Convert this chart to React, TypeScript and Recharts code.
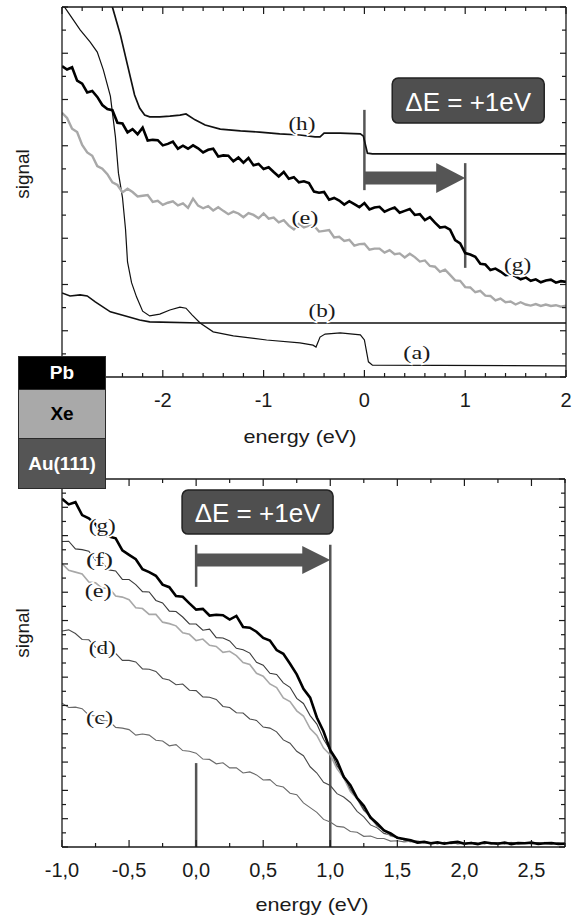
import React from 'react';
import { LineChart, Line, XAxis, YAxis, ReferenceLine, ReferenceDot } from 'recharts';

const SANS = '"Liberation Sans", Arial, Helvetica, sans-serif';
const SERIF = '"Liberation Serif", "Times New Roman", Times, serif';

// ---------------- TOP PANEL DATA ----------------
const topEnergy = [
  -3.0, -2.95, -2.9, -2.85, -2.8, -2.75, -2.7, -2.65, -2.6, -2.55, -2.5, -2.45, -2.4, -2.35, -2.3, -2.25, -2.2,
  -2.15, -2.1, -2.05, -2.0, -1.95, -1.9, -1.85, -1.8, -1.75, -1.7, -1.65, -1.6, -1.55, -1.5, -1.45, -1.4, -1.35,
  -1.3, -1.25, -1.2, -1.15, -1.1, -1.05, -1.0, -0.95, -0.9, -0.85, -0.8, -0.75, -0.7, -0.65, -0.6, -0.55, -0.5,
  -0.45, -0.4, -0.35, -0.3, -0.25, -0.2, -0.15, -0.1, -0.05, 0.0, 0.05, 0.1, 0.15, 0.2, 0.25, 0.3, 0.35, 0.4,
  0.45, 0.5, 0.55, 0.6, 0.65, 0.7, 0.75, 0.8, 0.85, 0.9, 0.95, 1.0, 1.05, 1.1, 1.15, 1.2, 1.25, 1.3, 1.35, 1.4,
  1.45, 1.5, 1.55, 1.6, 1.65, 1.7, 1.75, 1.8, 1.85, 1.9, 1.95, 2.0,
];
const topG = [
  84.0, 83.1, 83.7, 80.1, 79.3, 76.9, 77.3, 75.7, 73.5, 72.4, 72.1, 68.7, 68.5, 66.1, 67.0, 65.6, 67.4,
  63.9, 64.1, 64.0, 62.6, 63.0, 63.6, 61.7, 62.5, 61.7, 62.6, 61.8, 60.7, 61.4, 61.7, 59.6, 59.9, 59.8,
  58.3, 59.3, 57.9, 59.2, 57.2, 57.6, 56.2, 56.7, 55.4, 54.2, 55.4, 53.6, 54.0, 52.6, 52.9, 52.4, 50.1,
  49.8, 50.0, 47.9, 48.4, 47.7, 46.6, 47.5, 46.7, 45.9, 47.0, 45.3, 45.8, 46.0, 44.7, 45.3, 45.8, 44.4, 44.9,
  45.4, 43.8, 44.0, 42.4, 43.2, 41.7, 40.4, 40.6, 39.8, 37.0, 36.1, 33.5, 33.1, 32.5, 30.6, 30.4, 28.9, 29.3, 28.5, 27.5,
  27.7, 27.2, 26.4, 26.9, 26.0, 26.4, 25.6, 26.1, 26.3, 25.5, 25.9, 25.7,
];
const topE = [
  71.4, 70.0, 67.1, 66.2, 62.7, 60.7, 59.8, 57.0, 56.3, 54.8, 52.6, 51.9, 49.9, 50.9, 50.0, 48.8, 49.0,
  49.2, 47.3, 47.6, 46.5, 47.1, 47.5, 46.4, 46.9, 45.7, 48.2, 46.3, 45.6, 46.2, 45.0, 45.9, 44.9, 44.0,
  44.7, 44.2, 43.2, 44.3, 43.8, 42.9, 44.2, 42.8, 43.1, 41.8, 42.4, 40.9, 39.9, 41.4, 40.4, 40.9, 40.9,
  39.3, 39.5, 39.7, 37.7, 37.9, 36.8, 37.1, 35.5, 35.9, 36.0, 34.4, 34.7, 34.7, 33.6, 34.3, 33.2, 33.4, 32.3,
  33.3, 32.4, 31.2, 31.5, 30.0, 29.8, 28.4, 29.0, 27.6, 26.1, 26.0, 24.3, 24.2, 22.9, 23.3, 22.0, 21.9, 20.7, 21.2, 20.2,
  20.4, 19.6, 20.2, 19.6, 19.3, 19.7, 19.2, 19.6, 19.2, 19.4, 19.0, 19.3,
];
const hEnergy = [-2.56, -2.5, -2.42, -2.35, -2.28, -2.23, -2.18, -2.13, -2.03, -1.93, -1.83, -1.77, -1.68, -1.58, -1.43, -1.23, -1.04, -0.84, -0.64, -0.49, -0.44, -0.4, -0.24, -0.04, -0.01, 0.03, 0.08, 2.0];
const hSignal = [118, 100, 92.4, 84.3, 76.2, 72.7, 70.8, 70.3, 70.3, 70.5, 70.8, 71.1, 69.5, 68.1, 67.0, 66.5, 66.2, 65.7, 65.4, 64.9, 64.9, 65.9, 65.9, 65.7, 65.1, 60.5, 60.3, 60.3];
const aEnergy = [-3.0, -2.92, -2.82, -2.72, -2.65, -2.59, -2.52, -2.47, -2.44, -2.4, -2.37, -2.35, -2.31, -2.26, -2.2, -2.13, -2.03, -1.93, -1.83, -1.77, -1.71, -1.63, -1.5, -1.3, -0.97, -0.64, -0.51, -0.48, -0.44, -0.39, -0.24, -0.04, 0.0, 0.04, 0.08, 2.0];
const aSignal = [101, 97.8, 93.8, 90.5, 87.8, 83.0, 75.9, 64.9, 55.1, 48.5, 40.0, 31.1, 25.5, 21.6, 17.8, 16.5, 17.0, 18.1, 18.9, 18.6, 16.8, 14.6, 12.2, 11.1, 10.0, 9.2, 8.6, 8.1, 10.8, 11.6, 11.9, 11.4, 10.0, 4.1, 3.2, 3.0];
const bEnergy = [-3.0, -2.92, -2.82, -2.75, -2.67, -2.52, -2.37, -2.23, -2.13, -1.63, 2.0];
const bSignal = [22.7, 21.9, 22.2, 21.9, 20.3, 17.6, 16.5, 15.4, 14.9, 14.6, 14.6];

// ---------------- BOTTOM PANEL DATA ----------------
const botEnergy = [
  -1.0, -0.95, -0.9, -0.85, -0.8, -0.75, -0.7, -0.65, -0.6, -0.55, -0.5, -0.45, -0.4, -0.35, -0.3, -0.25, -0.2,
  -0.15, -0.1, -0.05, 0.0, 0.05, 0.1, 0.15, 0.2, 0.25, 0.3, 0.35, 0.4, 0.45, 0.5, 0.55, 0.6, 0.65, 0.7, 0.75,
  0.8, 0.85, 0.9, 0.95, 1.0, 1.05, 1.1, 1.15, 1.2, 1.25, 1.3, 1.35, 1.4, 1.45, 1.5, 1.55, 1.6, 1.65, 1.7, 1.75,
  1.8, 1.85, 1.9, 1.95, 2.0, 2.05, 2.1, 2.15, 2.2, 2.25, 2.3, 2.35, 2.4, 2.45, 2.5, 2.55, 2.6, 2.65, 2.7, 2.75,
];
const botG = [
  94.6, 93.1, 93.7, 90.2, 89.3, 87.7, 85.0, 84.4, 83.9, 80.6, 79.4, 78.2, 75.5, 74.7, 73.7, 71.3, 70.6,
  68.2, 68.0, 66.2, 64.5, 64.7, 62.9, 63.1, 63.0, 61.8, 62.8, 59.8, 59.6, 58.5, 56.8, 56.1, 53.5, 52.5, 49.8, 46.9,
  43.0, 40.6, 35.2, 31.4, 26.3, 23.5, 19.1, 16.8, 13.3, 11.2, 8.0, 6.4, 4.5, 3.7, 2.5, 2.2, 1.8, 1.2, 1.4,
  1.0, 1.3, 0.9, 1.2, 1.4, 0.9, 1.1, 0.8, 1.3, 1.0, 0.9, 1.2, 0.8, 1.1, 1.0, 1.2, 0.8, 1.0, 1.1, 0.8, 0.9,
];
const botF = [
  83.0, 83.1, 81.0, 80.8, 80.4, 77.9, 77.2, 75.3, 75.0, 72.7, 72.7, 71.3, 69.4, 69.3, 67.0, 66.3, 64.1,
  64.0, 62.5, 60.6, 60.6, 58.9, 59.2, 56.9, 56.8, 56.0, 54.0, 53.6, 52.7, 50.2, 49.4, 47.2, 46.9, 44.6, 43.4, 40.4,
  39.0, 35.7, 33.4, 29.3, 26.3, 22.1, 19.5, 15.7, 13.2, 10.1, 8.4, 5.8, 4.7, 3.1, 2.7, 1.9, 1.8, 1.2, 1.5,
  1.1, 0.9, 1.3, 1.0, 1.2, 0.8, 1.3, 1.0, 0.9, 1.2, 1.1, 0.8, 1.2, 0.9, 1.1, 1.0, 1.2, 0.9, 0.8, 1.1, 1.0,
];
const botE = [
  77.0, 75.2, 74.7, 74.2, 72.0, 71.8, 70.3, 70.4, 68.2, 67.9, 67.2, 65.0, 64.8, 63.2, 63.2, 61.1, 60.7,
  60.1, 58.2, 57.8, 56.1, 56.5, 54.8, 54.5, 52.9, 53.2, 52.0, 50.1, 49.6, 47.2, 46.4, 44.3, 43.3, 40.5, 39.5, 37.0,
  35.6, 32.2, 30.3, 26.9, 25.0, 21.3, 18.8, 15.1, 13.1, 10.0, 8.1, 5.6, 4.5, 3.0, 2.6, 2.0, 1.4, 1.6, 1.2,
  1.0, 1.2, 1.1, 0.9, 1.3, 1.0, 1.1, 0.8, 1.2, 1.0, 1.1, 0.9, 1.2, 0.8, 1.0, 1.1, 0.9, 1.2, 1.0, 0.8, 1.0,
];
const botD = [
  58.7, 59.0, 58.0, 56.4, 56.3, 54.3, 53.7, 52.0, 52.6, 50.7, 50.7, 50.3, 48.4, 48.3, 47.7, 45.8, 45.4,
  44.1, 44.3, 42.6, 42.5, 40.8, 40.7, 40.1, 38.2, 37.9, 36.5, 36.4, 34.8, 34.4, 32.6, 32.3, 31.3, 29.1, 28.2, 26.0,
  24.8, 21.8, 20.1, 17.6, 16.7, 14.5, 13.6, 12.1, 9.7, 8.2, 6.0, 5.2, 3.7, 3.3, 2.4, 2.2, 1.5, 1.6, 1.1,
  1.2, 0.9, 1.1, 1.3, 0.8, 1.0, 1.2, 0.9, 1.1, 0.8, 1.2, 1.0, 0.9, 1.1, 1.2, 0.8, 1.0, 1.1, 0.9, 1.0, 0.8,
];
const botC = [
  39.1, 37.9, 38.0, 37.6, 35.8, 35.6, 34.3, 34.3, 32.5, 32.3, 31.9, 30.4, 30.7, 30.4, 29.0, 28.8, 27.5,
  27.8, 26.2, 26.0, 25.5, 23.9, 23.8, 22.6, 22.9, 21.5, 21.5, 20.1, 20.4, 19.6, 18.2, 18.3, 16.7, 16.3, 14.6, 14.2,
  12.0, 10.7, 9.4, 7.5, 6.8, 5.6, 5.4, 4.2, 4.0, 2.9, 3.0, 2.3, 2.3, 1.6, 1.7, 1.4, 1.6, 1.1, 1.3,
  1.0, 1.1, 0.9, 1.2, 1.0, 0.8, 1.1, 1.0, 0.9, 1.2, 0.8, 1.0, 1.1, 0.9, 1.0, 1.2, 0.8, 1.0, 0.9, 1.1, 0.9,
];

// ---------------- AXES / TICKS ----------------
const topXTicks = [-3, -2.8, -2.6, -2.4, -2.2, -2, -1.8, -1.6, -1.4, -1.2, -1, -0.8, -0.6, -0.4, -0.2, 0, 0.2, 0.4, 0.6, 0.8, 1, 1.2, 1.4, 1.6, 1.8, 2];
const topXLabels = ['', '-2', '-1', '0', '1', '2'];
const topYTicks = [0, 6.25, 12.5, 18.75, 25, 31.25, 37.5, 43.75, 50, 56.25, 62.5, 68.75, 75, 81.25, 87.5, 93.75, 100];
const botXTicks = [-1, -0.75, -0.5, -0.25, 0, 0.25, 0.5, 0.75, 1, 1.25, 1.5, 1.75, 2, 2.25, 2.5, 2.75];
const botXLabels = ['-1,0', '-0,5', '0,0', '0,5', '1,0', '1,5', '2,0', '2,5'];
const botYTicks = [0, 3.846, 7.692, 11.538, 15.385, 19.231, 23.077, 26.923, 30.769, 34.615, 38.462, 42.308, 46.154, 50, 53.846, 57.692, 61.538, 65.385, 69.231, 73.077, 76.923, 80.769, 84.615, 88.462, 92.308, 96.154, 100];

// curve labels (name, energy, signal)
const topCurveLabels = [
  { t: '(h)', x: -0.62, y: 68.6 },
  { t: '(e)', x: -0.59, y: 43.2 },
  { t: '(g)', x: 1.52, y: 30.3 },
  { t: '(b)', x: -0.42, y: 18.1 },
  { t: '(a)', x: 0.52, y: 6.5 },
];
const botCurveLabels = [
  { t: '(g)', x: -0.7, y: 87.5 },
  { t: '(f)', x: -0.72, y: 78.0 },
  { t: '(e)', x: -0.73, y: 69.8 },
  { t: '(d)', x: -0.7, y: 54.3 },
  { t: '(c)', x: -0.72, y: 35.1 },
];

const topRows = topEnergy.map((x, i) => ({ x, g: topG[i], e: topE[i] }));
const hRows = hEnergy.map((x, i) => ({ x, v: hSignal[i] }));
const aRows = aEnergy.map((x, i) => ({ x, v: aSignal[i] }));
const bRows = bEnergy.map((x, i) => ({ x, v: bSignal[i] }));
const botRows = botEnergy.map((x, i) => ({ x, g: botG[i], f: botF[i], e: botE[i], d: botD[i], c: botC[i] }));

const AX = '#1a1a1a';

const bottomTick = (labels: string[], every: number) => (p: any) => {
  const i = p.index ?? 0;
  const major = i % every === 0;
  const label = major ? labels[i / every] : '';
  return (
    <g>
      <line x1={p.x} y1={p.y} x2={p.x} y2={p.y - (major ? 7 : 4)} stroke={AX} strokeWidth={1.2} />
      {label ? (
        <text x={p.x} y={p.y + 30} textAnchor="middle" fontFamily={SANS} fontSize={20} fill="#1a1a1a">
          {label}
        </text>
      ) : null}
    </g>
  );
};
const topTick = (every: number) => (p: any) => {
  const major = (p.index ?? 0) % every === 0;
  return <line x1={p.x} y1={p.y} x2={p.x} y2={p.y + (major ? 7 : 4)} stroke={AX} strokeWidth={1.2} />;
};
const leftTick = (every: number) => (p: any) => {
  const major = (p.index ?? 0) % every === 0;
  return <line x1={p.x} y1={p.y} x2={p.x + (major ? 6 : 4)} y2={p.y} stroke={AX} strokeWidth={1.2} />;
};
const rightTick = (every: number) => (p: any) => {
  const major = (p.index ?? 0) % every === 0;
  return <line x1={p.x} y1={p.y} x2={p.x - (major ? 6 : 4)} y2={p.y} stroke={AX} strokeWidth={1.2} />;
};

const curveLabel = (t: string) => (p: any) => (
  <text
    x={p.cx}
    y={p.cy}
    textAnchor="middle"
    dominantBaseline="central"
    fontFamily={SERIF}
    fontSize={19}
    textLength={27}
    lengthAdjust="spacingAndGlyphs"
    fill="#1a1a1a"
    stroke="#fff"
    strokeWidth={3}
    paintOrder="stroke"
  >
    {t}
  </text>
);

const deltaBox = (w: number, h: number) => (p: any) => (
  <g>
    <rect x={p.cx - w / 2} y={p.cy - h / 2} width={w} height={h} rx={6} ry={6} fill="#4f4f4f" stroke="#222" strokeWidth={1.5} />
    <text x={p.cx} y={p.cy + 1} textAnchor="middle" dominantBaseline="central" fontFamily={SANS} fontSize={26} fill="#fff">
      ΔE = +1eV
    </text>
  </g>
);

const arrowHead = (len: number, half: number) => (p: any) => (
  <polygon points={`${p.cx},${p.cy} ${p.cx - len},${p.cy - half} ${p.cx - len},${p.cy + half}`} fill="#555" />
);

const axisProps = {
  type: 'number' as const,
  allowDataOverflow: true,
  interval: 0 as const,
  tickSize: 0,
  tickMargin: 0,
  tickLine: false,
  axisLine: { stroke: AX, strokeWidth: 1.3 },
};

function TopPanel() {
  return (
    <LineChart width={572} height={440} margin={{ top: 6, right: 5, bottom: 62, left: 61 }}>
      <XAxis {...axisProps} dataKey="x" domain={[-3, 2]} ticks={topXTicks} height={1} tick={bottomTick(topXLabels, 5)} />
      <XAxis {...axisProps} xAxisId="t" orientation="top" dataKey="x" domain={[-3, 2]} ticks={topXTicks} height={1} tick={topTick(5)} />
      <YAxis {...axisProps} domain={[0, 100]} ticks={topYTicks} width={1} tick={leftTick(2)} />
      <YAxis {...axisProps} yAxisId="r" orientation="right" domain={[0, 100]} ticks={topYTicks} width={1} tick={rightTick(2)} />

      <ReferenceLine segment={[{ x: 0, y: 72.2 }, { x: 0, y: 50.5 }]} stroke="#555" strokeWidth={2.5} />
      <ReferenceLine segment={[{ x: 1, y: 57.8 }, { x: 1, y: 29.5 }]} stroke="#555" strokeWidth={2.5} />
      <ReferenceLine segment={[{ x: 0, y: 53.8 }, { x: 0.74, y: 53.8 }]} stroke="#555" strokeWidth={13} />
      <ReferenceDot x={1} y={53.8} r={0} shape={arrowHead(29, 15)} />

      <Line data={bRows} dataKey="v" stroke="#111" strokeWidth={1.6} dot={false} type="linear" isAnimationActive={false} />
      <Line data={aRows} dataKey="v" stroke="#111" strokeWidth={1.2} dot={false} type="linear" isAnimationActive={false} />
      <Line data={hRows} dataKey="v" stroke="#111" strokeWidth={1.7} dot={false} type="linear" isAnimationActive={false} />
      <Line data={topRows} dataKey="e" stroke="#a8a8a8" strokeWidth={2.4} dot={false} type="linear" isAnimationActive={false} />
      <Line data={topRows} dataKey="g" stroke="#000" strokeWidth={2.6} dot={false} type="linear" isAnimationActive={false} />

      <ReferenceDot x={1.03} y={74.7} r={0} shape={deltaBox(152, 45)} />
      {topCurveLabels.map((l) => (
        <ReferenceDot key={l.t} x={l.x} y={l.y} r={0} shape={curveLabel(l.t)} />
      ))}
    </LineChart>
  );
}

function BottomPanel() {
  return (
    <LineChart width={572} height={478} margin={{ top: 38, right: 6, bottom: 70, left: 61 }}>
      <XAxis {...axisProps} dataKey="x" domain={[-1, 2.75]} ticks={botXTicks} height={1} tick={bottomTick(botXLabels, 2)} />
      <XAxis {...axisProps} xAxisId="t" orientation="top" dataKey="x" domain={[-1, 2.75]} ticks={botXTicks} height={1} tick={topTick(2)} />
      <YAxis {...axisProps} domain={[0, 100]} ticks={botYTicks} width={1} tick={leftTick(2)} />
      <YAxis {...axisProps} yAxisId="r" orientation="right" domain={[0, 100]} ticks={botYTicks} width={1} tick={rightTick(2)} />

      <ReferenceLine segment={[{ x: 0, y: 82.1 }, { x: 0, y: 70.7 }]} stroke="#555" strokeWidth={2.5} />
      <ReferenceLine segment={[{ x: 0, y: 22.8 }, { x: 0, y: 0 }]} stroke="#555" strokeWidth={2.5} />
      <ReferenceLine segment={[{ x: 1, y: 82.1 }, { x: 1, y: 0 }]} stroke="#555" strokeWidth={2.5} />
      <ReferenceLine segment={[{ x: 0, y: 78.0 }, { x: 0.8, y: 78.0 }]} stroke="#555" strokeWidth={13} />
      <ReferenceDot x={1} y={78.0} r={0} shape={arrowHead(28, 14)} />

      <Line data={botRows} dataKey="c" stroke="#6a6a6a" strokeWidth={1.1} dot={false} type="linear" isAnimationActive={false} />
      <Line data={botRows} dataKey="d" stroke="#4a4a4a" strokeWidth={1.1} dot={false} type="linear" isAnimationActive={false} />
      <Line data={botRows} dataKey="e" stroke="#a8a8a8" strokeWidth={1.6} dot={false} type="linear" isAnimationActive={false} />
      <Line data={botRows} dataKey="f" stroke="#3a3a3a" strokeWidth={1.1} dot={false} type="linear" isAnimationActive={false} />
      <Line data={botRows} dataKey="g" stroke="#000" strokeWidth={2.6} dot={false} type="linear" isAnimationActive={false} />

      <ReferenceDot x={0.458} y={91.0} r={0} shape={deltaBox(151, 44)} />
      {botCurveLabels.map((l) => (
        <ReferenceDot key={l.t} x={l.x} y={l.y} r={0} shape={curveLabel(l.t)} />
      ))}
    </LineChart>
  );
}

const layer = (bg: string, color: string, h: number, text: string, borderTop?: boolean) => (
  <div
    style={{
      height: h,
      background: bg,
      color,
      display: 'flex',
      alignItems: 'center',
      justifyContent: 'center',
      fontFamily: SANS,
      fontWeight: 'bold',
      fontSize: 19,
      borderTop: borderTop ? '1.5px solid #2a2a2a' : 'none',
      boxSizing: 'border-box',
    }}
  >
    {text}
  </div>
);

export default function App() {
  return (
    <div style={{ position: 'absolute', left: 0, top: 0, width: 572, height: 918, background: '#fff', overflow: 'hidden' }}>
      <div style={{ position: 'absolute', left: 0, top: 0 }}>
        <TopPanel />
      </div>
      <div style={{ position: 'absolute', left: 0, top: 440 }}>
        <BottomPanel />
      </div>
      <svg style={{ position: 'absolute', left: 0, top: 0, pointerEvents: 'none' }} width={572} height={918}>
        <text x={300} y={443} textAnchor="middle" fontFamily={SANS} fontSize={19} textLength={113} lengthAdjust="spacingAndGlyphs" fill="#1a1a1a">
          energy (eV)
        </text>
        <text x={312} y={911} textAnchor="middle" fontFamily={SANS} fontSize={19} textLength={113} lengthAdjust="spacingAndGlyphs" fill="#1a1a1a">
          energy (eV)
        </text>
        <text transform="translate(22,174) rotate(-90)" textAnchor="middle" dominantBaseline="central" fontFamily={SANS} fontSize={19} fill="#1a1a1a">
          signal
        </text>
        <text transform="translate(22,633) rotate(-90)" textAnchor="middle" dominantBaseline="central" fontFamily={SANS} fontSize={19} fill="#1a1a1a">
          signal
        </text>
      </svg>
      <div
        style={{
          position: 'absolute',
          left: 18,
          top: 356,
          width: 88,
          border: '1.5px solid #2a2a2a',
          boxSizing: 'border-box',
          zIndex: 5,
        }}
      >
        {layer('#000', '#fff', 32, 'Pb')}
        {layer('#a9a9a9', '#000', 49, 'Xe', true)}
        {layer('#555', '#fff', 50, 'Au(111)', true)}
      </div>
    </div>
  );
}
